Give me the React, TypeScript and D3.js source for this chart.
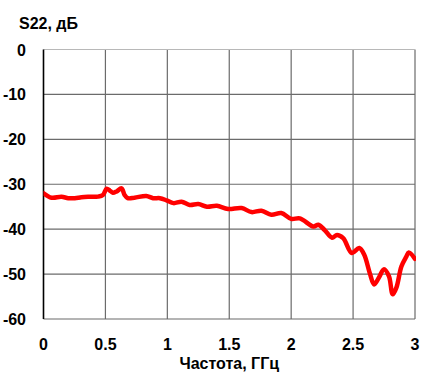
import React, { useEffect, useRef } from "react";
import * as d3 from "d3";

// S22 vs frequency
const freqGHz = [
  0, 0.065, 0.145, 0.2, 0.253, 0.306, 0.36, 0.44, 0.48, 0.51, 0.535, 0.56, 0.59, 0.63, 0.655,
  0.68, 0.735, 0.83, 0.885, 0.94, 0.995, 1.05, 1.115, 1.18, 1.25, 1.32, 1.4, 1.49, 1.6, 1.68,
  1.76, 1.84, 1.92, 2.0, 2.07, 2.18, 2.22, 2.27, 2.33, 2.37, 2.42, 2.49, 2.55, 2.59, 2.635,
  2.67, 2.71, 2.75, 2.79, 2.82, 2.85, 2.89, 2.93, 2.95, 3.0,
];
const s22dB = [
  -32.0, -33.0, -32.8, -33.1, -33.1, -32.9, -32.8, -32.75, -32.4, -31.0, -31.4, -31.9, -31.6,
  -30.9, -32.4, -33.1, -33.0, -32.6, -33.1, -33.1, -33.6, -34.2, -33.9, -34.6, -34.4, -35.0,
  -34.8, -35.5, -35.3, -36.2, -35.9, -36.8, -36.4, -37.7, -37.6, -39.4, -39.0, -40.2, -41.9,
  -41.3, -42.0, -45.3, -44.2, -45.7, -49.8, -52.3, -50.7, -48.9, -50.5, -54.5, -53.0, -48.3,
  -46.1, -45.2, -46.6,
];
const xTicks = [0, 0.5, 1, 1.5, 2, 2.5, 3];
const yTicks = [0, -10, -20, -30, -40, -50, -60];
const yTitle = "S22, дБ";
const xTitle = "Частота, ГГц";

const W = 438;
const H = 381;
const margin = { top: 49.5, right: 23, bottom: 62, left: 43.5 };

export default function App() {
  const ref = useRef<SVGSVGElement>(null);

  useEffect(() => {
    const svg = d3.select(ref.current);
    svg.selectAll("*").remove();

    const x = d3.scaleLinear().domain([0, 3]).range([margin.left, W - margin.right]);
    const y = d3.scaleLinear().domain([-60, 0]).range([H - margin.bottom, margin.top]);
    const font = "'Liberation Sans', Arial, sans-serif";

    // grid
    const g = svg.append("g");
    g.selectAll(".vgrid")
      .data(xTicks.slice(1))
      .join("line")
      .attr("x1", (d) => x(d))
      .attr("x2", (d) => x(d))
      .attr("y1", y(0))
      .attr("y2", y(-60))
      .attr("stroke", "#6b6b6b")
      .attr("stroke-width", 1.2);
    g.selectAll(".hgrid")
      .data(yTicks)
      .join("line")
      .attr("x1", x(0))
      .attr("x2", x(3))
      .attr("y1", (d) => y(d))
      .attr("y2", (d) => y(d))
      .attr("stroke", (d) => (d === 0 ? "#b8b8b8" : "#6b6b6b"))
      .attr("stroke-width", (d) => (d === 0 ? 1 : 1.2));

    // left axis line
    g.append("line")
      .attr("x1", x(0))
      .attr("x2", x(0))
      .attr("y1", y(0))
      .attr("y2", y(-60))
      .attr("stroke", "#000")
      .attr("stroke-width", 1.6);

    // tick labels
    svg.selectAll(".ylab")
      .data(yTicks)
      .join("text")
      .attr("x", 26)
      .attr("y", (d) => y(d) + 6)
      .attr("text-anchor", "end")
      .attr("font-family", font)
      .attr("font-weight", "bold")
      .attr("font-size", 16)
      .text((d) => String(d));

    svg.selectAll(".xlab")
      .data(xTicks)
      .join("text")
      .attr("x", (d) => x(d))
      .attr("y", 350)
      .attr("text-anchor", "middle")
      .attr("font-family", font)
      .attr("font-weight", "bold")
      .attr("font-size", 16)
      .text((d) => String(d));

    svg.append("text")
      .attr("x", 19)
      .attr("y", 29)
      .attr("font-family", font)
      .attr("font-weight", "bold")
      .attr("font-size", 16)
      .text(yTitle);

    svg.append("text")
      .attr("x", (x(0) + x(3)) / 2)
      .attr("y", 369)
      .attr("text-anchor", "middle")
      .attr("font-family", font)
      .attr("font-weight", "bold")
      .attr("font-size", 16)
      .text(xTitle);

    // curve
    const pts = freqGHz.map((f, i) => [f, s22dB[i]] as [number, number]);
    const line = d3
      .line<[number, number]>()
      .x((d) => x(d[0]))
      .y((d) => y(d[1]))
      .curve(d3.curveCatmullRom.alpha(0.5));

    svg.append("defs")
      .append("clipPath")
      .attr("id", "plotclip")
      .append("rect")
      .attr("x", x(0))
      .attr("y", y(0))
      .attr("width", x(3) - x(0) + 1)
      .attr("height", y(-60) - y(0));

    svg.append("path")
      .datum(pts)
      .attr("d", line)
      .attr("fill", "none")
      .attr("stroke", "#ff0000")
      .attr("stroke-width", 4.5)
      .attr("stroke-linejoin", "round")
      .attr("stroke-linecap", "round")
      .attr("clip-path", "url(#plotclip)");
  }, []);

  return (
    <div style={{ position: "absolute", left: 0, top: 0 }}>
      <svg ref={ref} width={W} height={H} style={{ display: "block", background: "#fff" }} />
    </div>
  );
}
